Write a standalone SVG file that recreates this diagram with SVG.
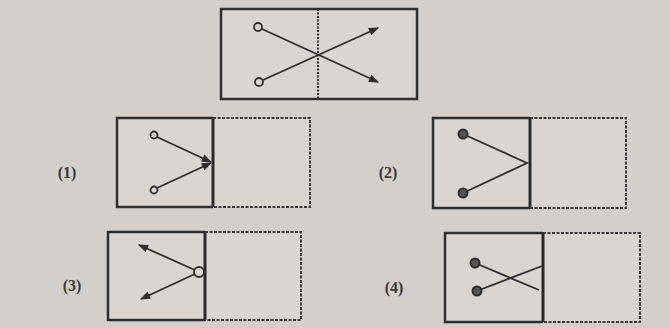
<svg xmlns="http://www.w3.org/2000/svg" width="669" height="328" viewBox="0 0 669 328">
<style>
.bx{fill:#d9d6d1;stroke:none}
.solid{fill:none;stroke:#2e2e2e;stroke-width:2.5}
.div{stroke:#2a2a2a;stroke-width:3}
.dash{fill:none;stroke:#3a3a3a;stroke-width:2;stroke-dasharray:3 1.5}
.ln{fill:none;stroke:#2e2e2e;stroke-width:1.8}
.oc{fill:#d9d6d1;stroke:#2e2e2e;stroke-width:1.8}
.fc{fill:#555;stroke:#2e2e2e;stroke-width:2}
.lbl{font-family:"Liberation Serif",serif;font-size:16px;font-weight:bold;fill:#3a3a3a}
</style>
<defs>
<marker id="ahL" viewBox="0 0 10 10" refX="9" refY="5" markerWidth="13" markerHeight="10" orient="auto" markerUnits="userSpaceOnUse">
<path d="M0,1 L10,5 L0,9 Z" fill="#2e2e2e"/>
</marker>
</defs>
<rect width="669" height="328" fill="#d3d0cb"/>

<g id="question">
<rect class="bx" x="221" y="9" width="196" height="90"/>
<rect class="solid" x="221" y="9" width="196" height="90"/>
<line x1="318" y1="9" x2="318" y2="99" stroke="#2e2e2e" stroke-width="2" stroke-dasharray="2 1.5"/>
<line class="ln" x1="262" y1="29" x2="378" y2="82" marker-end="url(#ahL)"/>
<line class="ln" x1="263" y1="80" x2="378" y2="28" marker-end="url(#ahL)"/>
<circle class="oc" cx="258" cy="27" r="4"/>
<circle class="oc" cx="259" cy="82" r="4"/>
</g>

<g id="opt1">
<rect class="bx" x="117" y="118" width="193" height="89"/>
<path class="solid" d="M213,118 H117 V207 H213"/>
<line class="div" x1="213" y1="118" x2="213" y2="207"/>
<path class="dash" d="M213,118 H310 V207 H213"/>
<line class="ln" x1="157" y1="137" x2="211" y2="162" marker-end="url(#ahL)"/>
<line class="ln" x1="157" y1="188" x2="211" y2="163" marker-end="url(#ahL)"/>
<circle class="oc" cx="154" cy="135" r="3.5"/>
<circle class="oc" cx="154" cy="190" r="3.5"/>
<text class="lbl" x="67" y="178" text-anchor="middle">(1)</text>
</g>

<g id="opt2">
<rect class="bx" x="433" y="118" width="193" height="90"/>
<path class="solid" d="M530,118 H433 V208 H530"/>
<line class="div" x1="530" y1="118" x2="530" y2="208"/>
<path class="dash" d="M530,118 H626 V208 H530"/>
<polyline class="ln" points="463,134 527,163 463,193"/>
<circle class="fc" cx="463" cy="134" r="4.5"/>
<circle class="fc" cx="463" cy="193" r="4.5"/>
<text class="lbl" x="388" y="178" text-anchor="middle">(2)</text>
</g>

<g id="opt3">
<rect class="bx" x="108" y="232" width="193" height="88"/>
<path class="solid" d="M205,232 H108 V320 H205"/>
<line class="div" x1="205" y1="232" x2="205" y2="320"/>
<path class="dash" d="M205,232 H301 V320 H205"/>
<line class="ln" x1="197" y1="271" x2="139" y2="245" marker-end="url(#ahL)"/>
<line class="ln" x1="197" y1="273" x2="141" y2="299" marker-end="url(#ahL)"/>
<circle class="oc" cx="199" cy="272" r="5"/>
<text class="lbl" x="72" y="291" text-anchor="middle">(3)</text>
</g>

<g id="opt4">
<rect class="bx" x="445" y="233" width="195" height="89"/>
<path class="solid" d="M543,233 H445 V322 H543"/>
<line class="div" x1="543" y1="233" x2="543" y2="322"/>
<path class="dash" d="M543,233 H640 V322 H543"/>
<line class="ln" x1="475" y1="263" x2="539" y2="290"/>
<line class="ln" x1="477" y1="291" x2="542" y2="266"/>
<circle class="fc" cx="475" cy="263" r="4.5"/>
<circle class="fc" cx="477" cy="291" r="4.5"/>
<text class="lbl" x="394" y="293" text-anchor="middle">(4)</text>
</g>
</svg>
